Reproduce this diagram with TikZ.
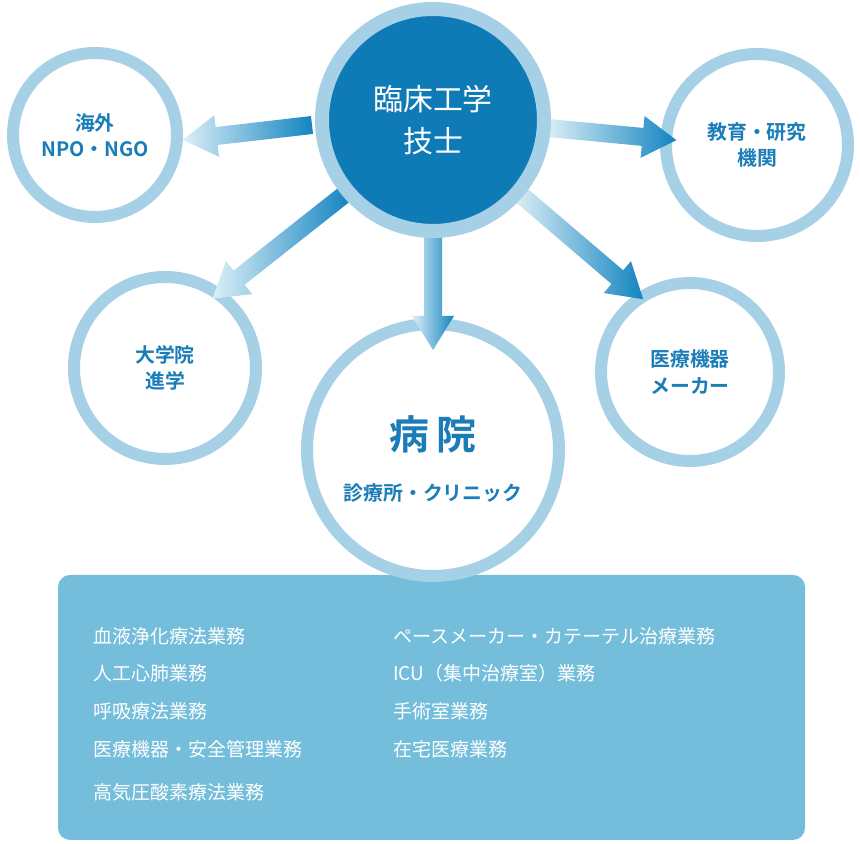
\documentclass[tikz,border=0pt]{standalone}
\usepackage{fontspec}
\setmainfont{Noto Sans CJK JP}[BoldFont={Noto Sans CJK JP Bold}]
\definecolor{ring}{HTML}{A6D0E6}
\definecolor{dark}{HTML}{0E7AB6}
\definecolor{txt}{HTML}{1A7DB8}
\definecolor{boxc}{HTML}{74BEDB}
\definecolor{al}{HTML}{DCEFF7}
\definecolor{ad}{HTML}{1284C0}
\newcommand\garrow[3]{\begin{scope}[shift={(#1)},rotate=#2]
\path[left color=al,right color=ad] (0,-9) -- (#3-34,-9) -- (#3-34,-21) -- (#3,0) -- (#3-34,21) -- (#3-34,9) -- (0,9) -- cycle;
\end{scope}}
\begin{document}
\begin{tikzpicture}[x=0.02cm,y=0.02cm,
  outer/.style={circle,draw=ring,line width=12*0.02cm,fill=white,text=txt,font=\bfseries\fontsize{11.3}{15}\selectfont,align=center,inner sep=0},
  item/.style={anchor=west,text=white,font=\fontsize{10.8}{13}\selectfont,inner sep=0}]
\useasboundingbox (0,0) rectangle (860,844);
\fill[boxc,rounded corners=12*0.02cm] (58,4) rectangle (805,269);
\node[item] at (93,208) {血液浄化療法業務};
\node[item] at (93,171) {人工心肺業務};
\node[item] at (93,133) {呼吸療法業務};
\node[item] at (93,95) {医療機器・安全管理業務};
\node[item] at (93,52) {高気圧酸素療法業務};
\node[item] at (393,208) {ペースメーカー・カテーテル治療業務};
\node[item] at (393,171) {ICU（集中治療室）業務};
\node[item] at (393,133) {手術室業務};
\node[item] at (393,95) {在宅医療業務};
\node[outer,minimum size=164*0.02cm] (kaigai) at (95,709) {海外\\NPO・NGO};
\node[outer,minimum size=182*0.02cm] (kyoiku) at (757,699) {教育・研究\\機関};
\node[outer,minimum size=182*0.02cm] (daigaku) at (165,476) {大学院\\進学};
\node[outer,minimum size=178*0.02cm] (iryo) at (690,472) {医療機器\\メーカー};
\node[outer,minimum size=252*0.02cm] (byoin) at (433,394) {};
\node[text=txt,font=\bfseries\fontsize{22.7}{26}\selectfont] (b1) at (433,410) {病\,院};
\node[text=txt,font=\bfseries\fontsize{11.3}{14}\selectfont] (b2) at (433,351) {診療所・クリニック};
\coordinate (s1) at (312,719); \coordinate (s2) at (548,716);
\coordinate (s3) at (345,650); \coordinate (s4) at (433,610);
\coordinate (s5) at (520,650);
\garrow{s1}{186.6}{130}
\garrow{s2}{-5.4}{129}
\garrow{s3}{218.3}{169}
\garrow{s4}{-90}{116}
\garrow{s5}{-40.5}{162}
\node[circle,draw=ring,line width=14*0.02cm,fill=dark,minimum size=222*0.02cm,text=white,align=center,font=\fontsize{17}{24}\selectfont] (center) at (433,724) {臨床工学\\技士};
\end{tikzpicture}
\end{document}
